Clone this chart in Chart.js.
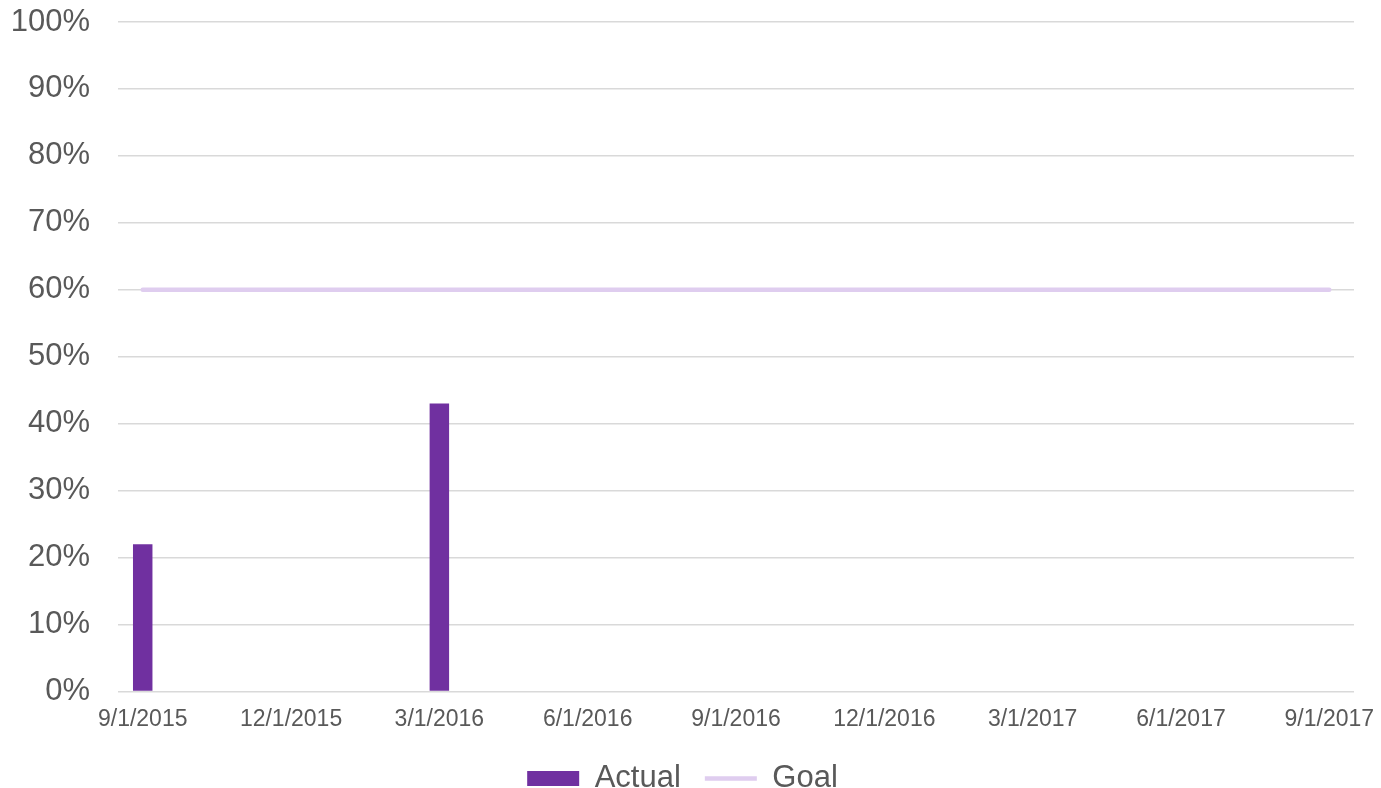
<!DOCTYPE html>
<html>
<head>
<meta charset="utf-8">
<script src="https://cdn.jsdelivr.net/npm/chart.js@4.4.0/dist/chart.umd.min.js"></script>
<style>
  html, body { margin: 0; padding: 0; background: #fff; }
  #wrap { width: 1381px; height: 788px; position: relative; }
</style>
</head>
<body>
<div id="wrap"><canvas id="myChart"></canvas></div>
<script>
// monthly categories, only every 3rd one gets a label
const months = [
  '9/1/2015', '10/1/2015', '11/1/2015', '12/1/2015', '1/1/2016', '2/1/2016',
  '3/1/2016', '4/1/2016', '5/1/2016', '6/1/2016', '7/1/2016', '8/1/2016',
  '9/1/2016', '10/1/2016', '11/1/2016', '12/1/2016', '1/1/2017', '2/1/2017',
  '3/1/2017', '4/1/2017', '5/1/2017', '6/1/2017', '7/1/2017', '8/1/2017',
  '9/1/2017'
];
const shownLabels = ['9/1/2015', '12/1/2015', '3/1/2016', '6/1/2016', '9/1/2016',
  '12/1/2016', '3/1/2017', '6/1/2017', '9/1/2017'];

const actual = [22, null, null, null, null, null, 43, null, null, null, null, null,
  null, null, null, null, null, null, null, null, null, null, null, null, null];
const goal = [60, 60, 60, 60, 60, 60, 60, 60, 60, 60, 60, 60, 60,
  60, 60, 60, 60, 60, 60, 60, 60, 60, 60, 60, 60];

const yTicks = [0, 10, 20, 30, 40, 50, 60, 70, 80, 90, 100];

const textColor = '#595959';
const gridColor = '#d9d9d9';
const fontFamily = 'Liberation Sans, Arial, sans-serif';

const ctx = document.getElementById('myChart').getContext('2d');
const chart = new Chart(ctx, {
  data: {
    labels: months,
    datasets: [{
      type: 'bar',
      label: 'Actual',
      data: actual,
      backgroundColor: '#7030a0',
      borderWidth: 0,
      categoryPercentage: 1,
      barPercentage: 0.394,
      pointStyle: 'rect',
      order: 2
    }, {
      type: 'line',
      label: 'Goal',
      data: goal,
      borderColor: '#dfcdef',
      backgroundColor: '#dfcdef',
      borderWidth: 4.5,
      borderCapStyle: 'round',
      pointRadius: 0,
      pointHoverRadius: 0,
      pointStyle: 'line',
      order: 1
    }]
  },
  options: {
    responsive: true,
    maintainAspectRatio: false,
    animation: false,
    layout: { padding: { left: 11, right: 27, top: 22, bottom: -16 } },
    plugins: {
      tooltip: { enabled: false },
      legend: {
        position: 'bottom',
        labels: {
          usePointStyle: true,
          pointStyleWidth: 52,
          boxHeight: 15,
          padding: 24,
          color: textColor,
          font: { family: fontFamily, size: 31 },
          sort: (a, b) => a.datasetIndex - b.datasetIndex
        }
      }
    },
    scales: {
      x: {
        offset: true,
        grid: { display: false, drawTicks: false },
        border: { display: false },
        afterFit: function(axis) {
          axis.paddingLeft = 0;
          axis.paddingRight = 0;
          axis.height -= 8;
        },
        ticks: {
          autoSkip: false,
          maxRotation: 0,
          minRotation: 0,
          padding: 14,
          color: textColor,
          font: { family: fontFamily, size: 23 },
          callback: function(value, index) {
            const lbl = months[index];
            return shownLabels.includes(lbl) ? lbl : '';
          }
        }
      },
      y: {
        min: 0,
        max: 100,
        afterBuildTicks: function(axis) {
          axis.ticks = yTicks.map(v => ({ value: v }));
        },
        afterFit: function(axis) {
          axis.paddingTop = 0;
          axis.paddingBottom = 0;
          axis.width = 107;
        },
        grid: { color: gridColor, lineWidth: 1.5, drawTicks: false },
        border: { display: false },
        ticks: {
          padding: 28,
          color: textColor,
          font: { family: fontFamily, size: 31 },
          callback: v => v + '%'
        }
      }
    }
  }
});
</script>
</body>
</html>
